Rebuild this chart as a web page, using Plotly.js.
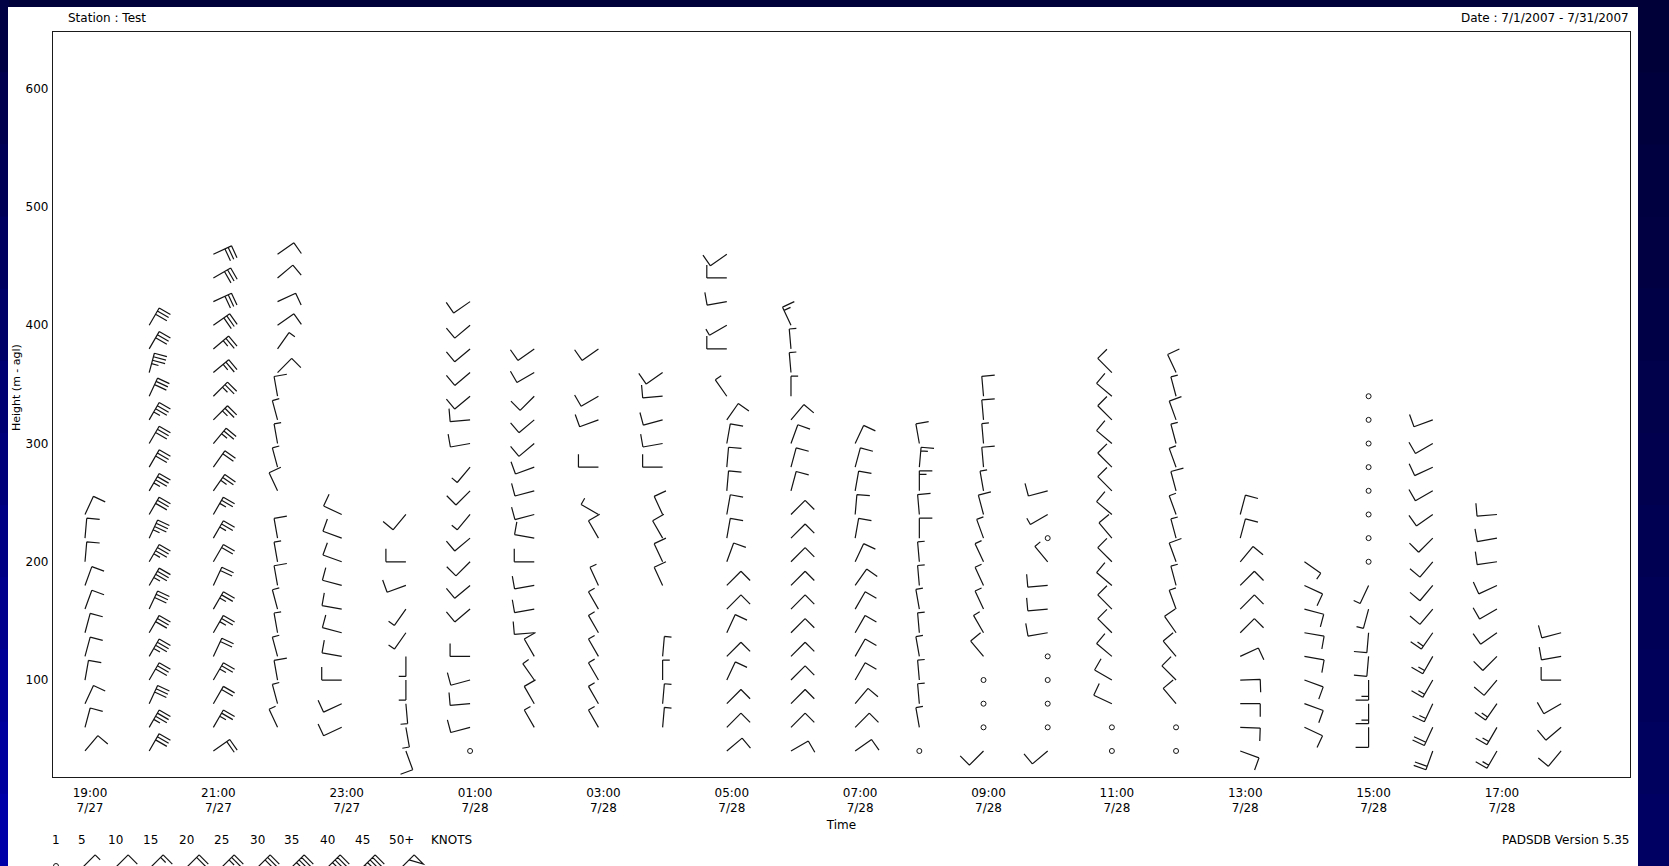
<!DOCTYPE html>
<html><head><meta charset="utf-8">
<script src="https://cdn.plot.ly/plotly-3.0.1.min.js"></script>
<style>html,body{margin:0;padding:0;background:#00003a;overflow:hidden}</style>
</head><body><div id="chart" style="width:1669px;height:866px"></div>
<script>
// ---------------- DATA ----------------
const timeLabels = ['19:00','20:00','21:00','22:00','23:00','00:00','01:00','02:00','03:00','04:00','05:00','06:00',
                    '07:00','08:00','09:00','10:00','11:00','12:00','13:00','14:00','15:00','16:00','17:00','18:00'];
const dateLabels = ['7/27','7/27','7/27','7/27','7/27','7/28','7/28','7/28','7/28','7/28','7/28','7/28',
                    '7/28','7/28','7/28','7/28','7/28','7/28','7/28','7/28','7/28','7/28','7/28','7/28'];
// heights (m agl) of each profile level, per hour column
const heights = [
 [40,60,80,100,120,140,160,180,200,220,240],
 [40,60,80,100,120,140,160,180,200,220,240,260,280,300,320,340,360,380,400],
 [40,60,80,100,120,140,160,180,200,220,240,260,280,300,320,340,360,380,400,420,440,460],
 [60,80,100,120,140,160,180,200,220,260,280,300,320,340,360,380,400,420,440,460],
 [60,80,100,120,140,160,180,200,220,240],
 [40,60,80,100,120,140,160,180,200,240],
 [40,60,80,100,120,160,180,200,220,240,260,280,300,320,340,360,380,400,420],
 [60,80,100,120,140,160,180,200,220,240,260,280,300,320,340,360,380],
 [60,80,100,120,140,160,180,220,240,280,320,340,380],
 [60,80,100,120,180,200,220,240,280,300,320,340,360],
 [40,60,80,100,120,140,160,180,200,220,240,260,280,300,320,340,380,400,420,440,460],
 [40,60,80,100,120,140,160,180,200,220,240,260,280,300,320,340,360,380,400],
 [40,60,80,100,120,140,160,180,200,220,240,260,280,300],
 [40,60,80,100,120,140,160,180,200,220,240,260,280,300],
 [40,60,80,100,120,140,160,180,200,220,240,260,280,300,320,340],
 [40,60,80,100,120,140,160,180,200,220,240,260],
 [40,60,80,100,120,140,160,180,200,220,240,260,280,300,320,340,360],
 [40,60,80,100,120,140,160,180,200,220,240,260,280,300,320,340,360],
 [40,60,80,100,120,140,160,180,200,220,240],
 [60,80,100,120,140,160,180,200],
 [60,80,100,120,140,160,180,200,220,240,260,280,300,320,340],
 [40,60,80,100,120,140,160,180,200,220,240,260,280,300,320],
 [40,60,80,100,120,140,160,180,200,220,240],
 [40,60,80,100,120,140]
];
// wind direction (degrees, direction wind blows from)
const directions = [
 [40,15,25,10,15,15,20,20,5,5,25],
 [30,30,25,30,30,30,25,30,30,25,30,30,30,30,30,25,15,30,30],
 [55,30,30,30,25,30,30,25,30,30,30,35,35,40,45,45,50,50,55,65,60,65],
 [335,345,350,345,350,345,350,350,350,335,345,350,345,350,45,35,55,65,50,55],
 [245,245,270,280,285,280,285,290,290,295],
 [160,170,175,180,180,215,215,250,270,220],
 [0,255,265,255,270,230,230,225,230,220,225,220,260,265,230,230,230,230,235],
 [330,330,325,330,265,260,260,270,280,255,255,250,230,230,225,240,235],
 [330,330,330,330,330,330,335,330,300,270,250,240,235],
 [5,5,0,5,335,335,330,335,270,260,255,265,235],
 [50,45,45,25,45,25,45,45,20,10,10,5,5,10,35,325,270,240,260,270,235],
 [60,45,45,45,45,45,45,45,45,45,45,15,15,20,40,0,355,355,335],
 [55,45,40,30,30,30,30,35,25,10,5,10,15,25],
 [0,350,355,355,350,355,350,355,355,0,355,0,5,350],
 [225,0,0,0,320,330,335,335,335,340,345,350,355,355,355,355],
 [230,0,0,0,0,260,265,265,320,0,240,255],
 [0,0,295,300,310,315,315,310,315,320,310,315,315,310,315,310,315],
 [0,0,320,315,320,325,340,345,340,345,340,345,340,345,340,345,335],
 [110,92,90,88,65,45,45,45,40,15,15],
 [115,110,110,100,100,105,115,125],
 [180,180,180,185,185,195,205,0,0,0,0,0,0,0,0],
 [200,205,205,210,210,215,220,220,220,225,235,240,245,240,250],
 [210,210,215,220,225,235,240,245,262,260,265],
 [220,230,240,270,260,255]
];
// wind speed (knots); 0 = calm
const speeds = [
 [10,10,10,10,10,10,10,10,10,10,10],
 [30,35,30,30,35,30,30,35,35,35,30,35,30,30,35,30,35,30,30],
 [20,25,20,25,20,25,25,20,20,25,25,25,20,25,25,25,25,25,30,30,30,30],
 [5,5,10,5,5,5,10,5,10,10,5,5,5,10,10,5,10,10,10,10],
 [10,10,10,10,10,10,10,10,10,10],
 [10,5,5,5,5,5,5,10,10,10],
 [0,10,10,10,10,10,10,10,10,5,10,5,10,10,10,10,10,10,10],
 [5,10,5,10,10,10,10,10,10,10,10,10,10,10,10,10,10],
 [5,5,5,5,5,5,5,10,5,10,10,10,10],
 [5,5,5,5,10,10,10,10,10,10,10,10,10],
 [10,10,10,10,10,10,10,10,10,10,10,10,10,10,10,5,10,5,10,10,10],
 [10,10,10,10,10,10,10,10,10,10,10,10,10,10,10,5,5,5,15],
 [10,10,10,10,10,10,10,10,10,10,10,10,10,10],
 [0,5,5,5,5,5,5,5,5,10,10,15,15,10],
 [10,0,0,0,10,5,5,5,5,5,10,5,10,5,10,10],
 [10,0,0,0,0,10,10,10,5,0,5,10],
 [0,0,10,10,10,10,10,10,10,10,10,10,10,10,10,10,10],
 [0,0,10,10,10,10,5,5,10,5,5,10,5,5,10,5,10],
 [10,10,10,10,10,10,10,10,10,10,10],
 [10,10,10,10,10,10,10,5],
 [10,15,15,10,10,5,5,0,0,0,0,0,0,0,0],
 [20,20,15,15,15,15,10,10,10,10,10,10,10,10,10],
 [15,15,15,10,10,10,10,10,10,10,10],
 [10,10,10,10,10,10]
];
const legendLabels = ['1','5','10','15','20','25','30','35','40','45','50+'];
const legendSpeeds = [1,5,10,15,20,25,30,35,40,45,50];

// ---------------- LAYOUT GEOMETRY ----------------
const W = 1669, H = 866, ML = 53, MR = 39, MT = 32, MB = 89;
const PW = W - ML - MR, PH = H - MT - MB, PLOT_BOTTOM = H - MB;
const pxX = px => (px - ML) / PW;
const pxY = py => (PLOT_BOTTOM - py) / PH;
const FONT = {family: 'DejaVu Sans, Arial, sans-serif', size: 12, color: '#000'};
const INK = '#141414';

// barb geometry (pixels)
const STAFF = 20, BARB = 13, SPACE = 3.6, STATION_SHIFT = -5;

function barbPath(dir, spd, shift) {
  const r = dir * Math.PI / 180, ux = Math.sin(r), uy = Math.cos(r);
  const b = (dir + 90) * Math.PI / 180, vx = Math.sin(b), vy = Math.cos(b);
  const pt = (x, y) => (x + shift).toFixed(2) + ',' + y.toFixed(2);
  let p = 'M ' + pt(0, 0) + ' L ' + pt(STAFF * ux, STAFF * uy);
  let s = Math.round(spd / 5) * 5;
  const flags = Math.floor(s / 50); s -= flags * 50;
  const full = Math.floor(s / 10); s -= full * 10;
  const half = s >= 5;
  let pos = STAFF;
  for (let i = 0; i < flags; i++) {
    const p0 = [pos * ux, pos * uy];
    const p1 = [p0[0] + BARB * vx, p0[1] + BARB * vy];
    const p2 = [(pos - 2 * SPACE) * ux, (pos - 2 * SPACE) * uy];
    p += ' M ' + pt(p0[0], p0[1]) + ' L ' + pt(p1[0], p1[1]) + ' L ' + pt(p2[0], p2[1]);
    pos -= 2 * SPACE + SPACE;
  }
  for (let i = 0; i < full; i++) {
    const p0 = [pos * ux, pos * uy];
    p += ' M ' + pt(p0[0], p0[1]) + ' L ' + pt(p0[0] + BARB * vx, p0[1] + BARB * vy);
    pos -= SPACE;
  }
  if (half) {
    const p0 = [pos * ux, pos * uy];
    p += ' M ' + pt(p0[0], p0[1]) + ' L ' + pt(p0[0] + BARB * 0.55 * vx, p0[1] + BARB * 0.55 * vy);
  }
  return p;
}

const shapes = [];
// background bands and white panel
const bandSteps = 12;
for (let i = 0; i < bandSteps; i++) {
  const f = i / (bandSteps - 1);
  const lc = Math.round(0x45 + f * (0xa8 - 0x45));
  const rc = Math.round(0x38 + f * (0x62 - 0x38));
  const y0 = H * i / bandSteps, y1 = H * (i + 1) / bandSteps + 1;
  shapes.push({type: 'rect', xref: 'paper', yref: 'paper', layer: 'below', line: {width: 0},
    x0: pxX(0), x1: pxX(9), y0: pxY(y1), y1: pxY(y0), fillcolor: 'rgb(0,0,' + lc + ')'});
  shapes.push({type: 'rect', xref: 'paper', yref: 'paper', layer: 'below', line: {width: 0},
    x0: pxX(1637), x1: pxX(W), y0: pxY(y1), y1: pxY(y0), fillcolor: 'rgb(0,0,' + rc + ')'});
}
shapes.push({type: 'rect', xref: 'paper', yref: 'paper', layer: 'below', line: {width: 0},
  x0: pxX(8), x1: pxX(1638), y0: pxY(H + 5), y1: pxY(7), fillcolor: '#ffffff'});

// wind barbs at every profile level
const ptsX = [], ptsY = [], ptsText = [];
heights.forEach((col, ci) => {
  col.forEach((h, k) => {
    const d = directions[ci][k], s = speeds[ci][k];
    ptsX.push(ci); ptsY.push(h);
    ptsText.push(timeLabels[ci] + ' ' + dateLabels[ci] + '<br>' + h + ' m: ' + (s === 0 ? 'calm' : d + '° ' + s + ' kt'));
    if (s === 0) {
      shapes.push({type: 'circle', xref: 'x', yref: 'y', xsizemode: 'pixel', ysizemode: 'pixel',
        xanchor: ci, yanchor: h, x0: STATION_SHIFT - 2.5, x1: STATION_SHIFT + 2.5, y0: -2.5, y1: 2.5,
        line: {color: INK, width: 1}});
    } else {
      shapes.push({type: 'path', xref: 'x', yref: 'y', xsizemode: 'pixel', ysizemode: 'pixel',
        xanchor: ci, yanchor: h, path: barbPath(d, s, STATION_SHIFT),
        line: {color: INK, width: 1.2}});
    }
  });
});

// legend (row of sample barbs under the speed labels)
const legendX = [56, 82, 115, 150, 186, 221, 257, 291, 327, 362, 401];
const annotations = [];
legendLabels.forEach((lab, i) => {
  annotations.push({xref: 'paper', yref: 'paper', x: pxX(legendX[i]), y: pxY(840), text: lab,
    showarrow: false, xanchor: 'center', yanchor: 'middle', font: FONT});
  if (legendSpeeds[i] < 5) {
    shapes.push({type: 'circle', xref: 'paper', yref: 'paper', xsizemode: 'pixel', ysizemode: 'pixel',
      xanchor: pxX(legendX[i]), yanchor: pxY(866), x0: -2.5, x1: 2.5, y0: -2.5, y1: 2.5,
      line: {color: INK, width: 1}});
  } else {
    shapes.push({type: 'path', xref: 'paper', yref: 'paper', xsizemode: 'pixel', ysizemode: 'pixel',
      xanchor: pxX(legendX[i] - 1), yanchor: pxY(869), path: barbPath(45, legendSpeeds[i], 0),
      line: {color: INK, width: 1.2}});
  }
});
annotations.push({xref: 'paper', yref: 'paper', x: pxX(452), y: pxY(840), text: 'KNOTS',
  showarrow: false, xanchor: 'center', yanchor: 'middle', font: FONT});
annotations.push({xref: 'paper', yref: 'paper', x: pxX(66), y: pxY(18), text: 'Station : Test',
  showarrow: false, xanchor: 'left', yanchor: 'middle', font: FONT});
annotations.push({xref: 'paper', yref: 'paper', x: pxX(1631), y: pxY(18), text: 'Date : 7/1/2007 - 7/31/2007',
  showarrow: false, xanchor: 'right', yanchor: 'middle', font: FONT});
annotations.push({xref: 'paper', yref: 'paper', x: pxX(1631), y: pxY(840), text: 'PADSDB Version 5.35',
  showarrow: false, xanchor: 'right', yanchor: 'middle', font: FONT});
// y-axis title, placed where the original program puts it
annotations.push({xref: 'paper', yref: 'paper', x: pxX(17), y: pxY(388), text: 'Height (m - agl)',
  textangle: -90, showarrow: false, xanchor: 'center', yanchor: 'middle',
  font: {family: FONT.family, size: 11, color: '#000'}});

const tickIdx = timeLabels.map((t, i) => i).filter(i => i % 2 === 0);

const data = [{
  type: 'scatter', mode: 'markers', x: ptsX, y: ptsY, text: ptsText, hoverinfo: 'text',
  marker: {size: 6, color: 'rgba(0,0,0,0)'}, showlegend: false
}];

const layout = {
  width: W, height: H,
  margin: {l: ML, r: MR, t: MT, b: MB, pad: 0},
  paper_bgcolor: '#00003a', plot_bgcolor: '#ffffff',
  font: FONT, showlegend: false,
  xaxis: {
    range: [-0.5765, 23.995], tickvals: tickIdx,
    ticktext: tickIdx.map(i => timeLabels[i] + '<br>' + dateLabels[i]),
    ticks: '', showgrid: false, zeroline: false,
    showline: true, mirror: true, linecolor: '#1a1a1a', linewidth: 1.2,
    tickfont: FONT, ticklabelstandoff: 4,
    title: {text: 'Time', font: FONT, standoff: 6}
  },
  yaxis: {
    range: [18, 648], tickvals: [100, 200, 300, 400, 500, 600],
    ticks: '', showgrid: false, zeroline: false,
    showline: true, mirror: true, linecolor: '#1a1a1a', linewidth: 1.2,
    tickfont: FONT, ticklabelstandoff: 1
  },
  shapes: shapes,
  annotations: annotations
};

Plotly.newPlot('chart', data, layout, {displayModeBar: false, staticPlot: false});
</script>
</body></html>
